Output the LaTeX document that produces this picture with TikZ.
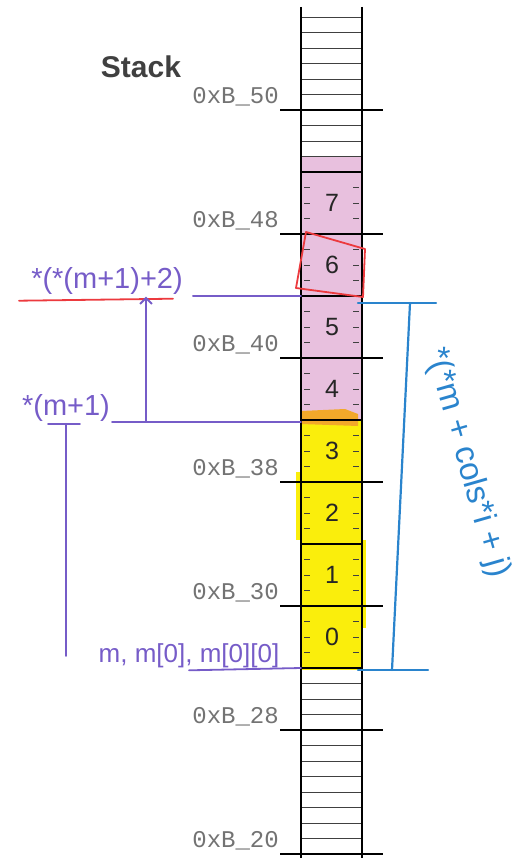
\documentclass[tikz,border=0pt]{standalone}
\usepackage{fontspec}
\setmainfont{Liberation Sans}
\newfontfamily\addrfont{Liberation Mono}
\usetikzlibrary{arrows.meta}

\definecolor{penpurple}{RGB}{118,92,200}
\definecolor{penblue}{RGB}{42,132,205}
\definecolor{penred}{RGB}{236,58,62}
\definecolor{hlpink}{RGB}{232,192,222}
\definecolor{hlyellow}{RGB}{250,238,12}
\definecolor{hlorange}{RGB}{242,168,42}

\tikzset{
  rowline/.style={black!75, line width=0.8pt},
  cellline/.style={black, line width=1.3pt},
  tickline/.style={black, line width=1.5pt},
  addr/.style={anchor=east, inner sep=0pt, text=black!55, font=\addrfont\fontsize{24}{24}\selectfont},
  cellnum/.style={text=black!85, font=\fontsize{25}{25}\selectfont},
  hand/.style={text=penpurple, inner sep=2pt, font=\fontsize{29}{29}\selectfont},
  purpleline/.style={penpurple, line width=1.8pt, line cap=round},
  redline/.style={penred, line width=1.8pt, line cap=round, line join=round},
  blueline/.style={penblue, line width=2.2pt, line cap=round}
}

\begin{document}
\begin{tikzpicture}[x=1pt, y=-1pt]
    \useasboundingbox (0,0) rectangle (524,861);

    % Highlighted cells
    \fill[hlpink] (300,157) rectangle (362,420);
    \fill[hlyellow] (301,420) rectangle (362,670);
    \fill[hlyellow] (296,472) rectangle (301,540);
    \fill[hlyellow] (362,540) rectangle (366,628);
    \fill[hlorange] (301,411) -- (345,409) -- (358,414) -- (358,426) -- (301,424) -- cycle;

    % Draw rows of the stack
    \foreach \k in {0,...,9}
        \draw[rowline] (301,{17+15.5*\k}) -- (362,{17+15.5*\k});
    \foreach \k in {43,...,54}
        \draw[rowline] (301,{17+15.5*\k}) -- (362,{17+15.5*\k});
    \foreach \k in {11,...,41} {
        \draw[rowline] (304,{17+15.5*\k}) -- (310,{17+15.5*\k});
        \draw[rowline] (353,{17+15.5*\k}) -- (359,{17+15.5*\k});
    }

    % Cell borders (4 bytes each)
    \foreach \k in {10,14,...,42}
        \draw[cellline] (301,{17+15.5*\k}) -- (362,{17+15.5*\k});

    % Column sides
    \draw[cellline] (301,7) -- (301,858);
    \draw[cellline] (362,7) -- (362,858);

    % Address ticks and labels
    \foreach \k/\lab in {6/50,14/48,22/40,30/38,38/30,46/28,54/20} {
        \draw[tickline] (280,{17+15.5*\k}) -- (383,{17+15.5*\k});
        \node[addr] (addr\lab) at (279,{17+15.5*\k-13}) {0xB\_\lab};
    }

    \node[text=black!75, font=\bfseries\fontsize{30}{30}\selectfont] (title) at (141,67) {Stack};

    % Cell numbers
    \foreach \i in {0,...,7}
        \node[cellnum] (cell\i) at (332,{637-62*\i}) {\i};

    % Points on the column
    \coordinate (c56) at (301,296);
    \coordinate (c34) at (301,422);
    \coordinate (c0) at (301,668);
    \coordinate (rtop) at (358,303);
    \coordinate (rbot) at (358,670);

    % Red box on cell 6
    \draw[redline] (306,232) -- (365,249) -- (363,297) -- (296,288) -- cycle;

    % Purple notes
    \node[hand] (deref) at (107,281) {*(*(m+1)+2)};
    \node[hand] (rowptr) at (66,408) {*(m+1)};
    \node[hand, font=\fontsize{26}{26}\selectfont] (base) at (189,656) {m, m[0], m[0][0]};

    \draw[redline] ([xshift=-10pt, yshift=-4pt]deref.south west) -- ([xshift=-12pt, yshift=-2pt]deref.south east);
    \draw[purpleline] ([xshift=8pt]deref.east |- c56) -- (c56);
    \draw[purpleline] (rowptr.east |- c34) -- (c34);
    \coordinate (up) at (146,422);
    \draw[purpleline, -{Straight Barb[length=6pt, width=12pt]}] (up) -- (up |- deref.south);
    \draw[purpleline] ([xshift=-18pt]rowptr.south) -- ([xshift=14pt]rowptr.south);
    \draw[purpleline] (rowptr.south) -- (rowptr.south |- base.west);
    \draw[purpleline] (base.south) -- (c0);

    % Blue bracket
    \draw[blueline] (rtop) -- ++(78,0);
    \draw[blueline] (rbot) -- ++(70,0);
    \draw[blueline] (410,303) -- (392,670);
    \node[text=penblue, rotate=-74, font=\fontsize{33}{33}\selectfont] (formula) at (467,463) {*(*m + cols*i + j)};
\end{tikzpicture}
\end{document}
